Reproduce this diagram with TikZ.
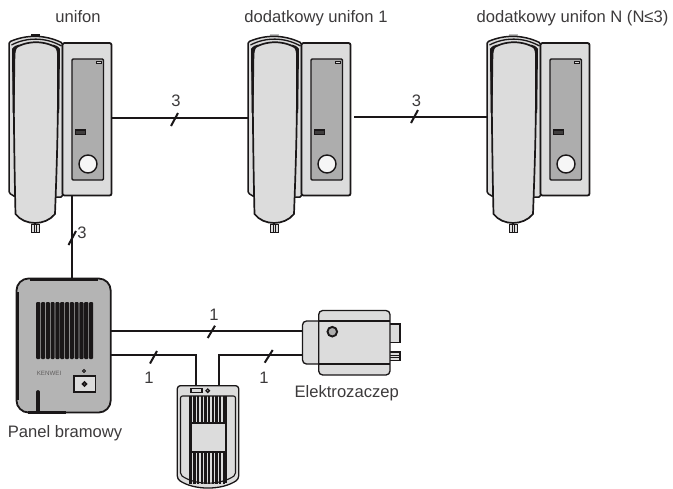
\documentclass[tikz,border=0pt]{standalone}
\usepackage{fontspec}
\setmainfont{Liberation Sans}
\definecolor{ink}{HTML}{1A1718}
\definecolor{lg}{HTML}{DCDCDC}
\definecolor{mg}{HTML}{ADADAD}
\definecolor{pg}{HTML}{B4B4B4}
\tikzset{
 wire/.style={draw=ink,line width=2pt},
 tick/.style={draw=ink,line width=2pt},
 lbl/.style={font=\fontsize{16.6}{18}\selectfont,text=ink!85!white,inner sep=0pt,anchor=base},
 part/.style={draw=ink,fill=lg,line width=1.3pt,rounded corners=1.5pt},
 intercom/.pic={
  \path[fill=lightgray] (-32,-9.5) rectangle (-22.5,-6);
  \path[part,line width=1.5pt] (-53.5,1) -- (-53.5,150) -- (-47,154) -- (0,154) -- (0,0) .. controls (-18,-8.5) and (-36,-8.5) .. (-53.5,-1) -- cycle;
  \path[part,line width=1.8pt,rounded corners=2pt] (0,0) -- (49,0) -- (49,152.5) -- (0,152.5) -- cycle;
  \path[fill=lg,draw=ink,line width=1pt] (-31,181) rectangle (-23,189);
  \draw[ink,line width=.7pt] (-28.5,181) -- (-28.5,189) (-25.7,181) -- (-25.7,189);
  \path[fill=lg,draw=ink,line width=1.7pt] (-49,6) .. controls (-36,-3) and (-17,-3) .. (-4,6) -- (-4.5,40) .. controls (-4.5,90) and (-6,130) .. (-7.5,171) .. controls (-17,183) and (-38,183) .. (-47,171) .. controls (-48,130) and (-49,60) .. (-49,6) -- cycle;
  \path[fill=ink] (-50.5,6) .. controls (-48.5,3) and (-46,2) .. (-43,1.5) .. controls (-46,5) and (-47,7) .. (-47.2,12) -- (-48,70) -- (-49.8,70) -- cycle;
  \path[fill=ink] (-2.5,6) .. controls (-4.5,3) and (-7,2) .. (-10,1.5) .. controls (-6.5,5) and (-5.5,7) .. (-5.3,12) -- (-5.5,70) -- (-3.3,70) -- cycle;
  \draw[ink,line width=1.3pt] (-51,2) .. controls (-36,-6) and (-17,-6) .. (-1,3);
  \path[draw=ink,fill=mg,line width=1.4pt,rounded corners=1.2pt] (9.5,16) rectangle (41,137);
  \path[draw=ink,fill=lg,line width=.6pt] (34,18) rectangle (38.5,20.5);
  \path[draw=ink,fill=ink!75!mg,line width=1.2pt] (13,87) rectangle (23,91.5);
  \path[draw=ink,fill=lg!25!white,line width=1.4pt] (25.5,121) circle (9);
 }
}
\begin{document}
\begin{tikzpicture}[x=1pt,y=-1pt]
\useasboundingbox (0,0) rectangle (673,488);
% intercoms
\coordinate (u1r) at (112,118);
\coordinate (u2l) at (247.5,118);
\coordinate (u2r) at (354,116.7);
\coordinate (u3l) at (487,116.7);
\coordinate (u1b) at (71.7,196);
\coordinate (pt) at (71.7,279);
\draw[wire] (u1r) -- (u2l);
\draw[wire] (u2r) -- (u3l);
\draw[wire] (u1b) -- (pt);
\pic at (62.5,43) {intercom};
\pic at (301.5,43) {intercom};
\pic at (540.5,43) {intercom};
\path[fill=ink] (30.5,33.5) rectangle (40,36.5);
% labels
\node[lbl] (t1) at (78,22) {unifon};
\node[lbl] (t2) at (316,22) {dodatkowy unifon 1};
\node[lbl] (t3) at (572.5,22) {dodatkowy unifon N (N≤3)};
\draw[tick] (171,126) -- (178,113);
\draw[tick] (411,123) -- (418,110);
\draw[tick] (68.5,245) -- (76,231);
\node[lbl] (n1) at (176,106.5) {3};
\node[lbl] (n2) at (416.5,106) {3};
\node[lbl] (n3) at (82,238.5) {3};
% panel
\path[draw=ink,fill=pg,line width=1.8pt,rounded corners=12pt] (16.5,278.5) rectangle (110.7,412.5);
\draw[ink,line width=3pt] (17,292) -- (17,400);
\draw[ink,line width=3pt] (30,279) -- (98,279);
\draw[ink,line width=3pt] (28,412.3) -- (66,412.3);
\foreach \x in {36.2,41,45.8,50.6,55.4,60.2,65,69.8,74.6,79.4,84.2,89}{
 \path[fill=ink,rounded corners=1pt] (\x,302) rectangle (\x+4.1,359);
}
\node[inner sep=0pt,font=\fontsize{6.2}{7}\selectfont,text=ink!70!white] (kw) at (49,373.5) {KENWEI};
\path[draw=ink,fill=lg,line width=1.7pt] (74,376) rectangle (95.5,392);
\path[draw=ink,fill=white,line width=1.7pt] (84.5,384) circle (1.9);
\path[draw=ink,fill=ink!70!pg,line width=.6pt] (84,371) circle (1.7);
\draw[ink,line width=3.8pt,line cap=round] (38,392) -- (38,411);
\node[lbl] (pb) at (65,437.7) {Panel bramowy};
% lock
\path[draw=ink,fill=lg,line width=1.1pt] (389,324) rectangle (400,342.7);
\path[draw=ink,fill=lg,line width=1.1pt] (389,352) rectangle (400,360.5);
\draw[ink,line width=.7pt] (390,355) -- (400,355) (390,357.5) -- (400,357.5);
\path[part,rounded corners=4pt] (302.5,321) rectangle (340,364);
\path[part,rounded corners=4pt] (318.7,310.5) rectangle (390,375);
\draw[ink,line width=1.2pt] (318.7,321) -- (390,321) (318.7,364) -- (390,364);
\path[draw=ink,fill=mg,line width=1.9pt] (332.3,331.7) circle (4.8);
\node[lbl] (el) at (346.7,397) {Elektrozaczep};
% bell
\path[draw=ink,fill=lg,line width=1.3pt,rounded corners=3pt] (177.3,385.7) -- (238.7,385.7) -- (238.7,479) .. controls (222,490.5) and (194,490.5) .. (177.3,479) -- cycle;
\path[draw=ink,fill=lg,line width=1.1pt,rounded corners=2pt] (180.5,396) -- (235.5,396) -- (235.5,475) .. controls (220,485.5) and (196,485.5) .. (180.5,475) -- cycle;
\foreach \x in {190.6,194.3,198,201.7,205.4,209.1,212.8,216.5,220.2,223.9}{
 \draw[ink,line width=2.4pt] (\x,396) -- (\x,483.5);
}
\draw[ink,line width=1.6pt] (226,396) -- (226,482.5);
\path[draw=ink,fill=lg,line width=2pt] (191,423) rectangle (225.7,452);
\path[draw=ink,fill=lg,line width=1.1pt] (191,388.7) rectangle (202,392.7);
\path[draw=ink,fill=lg,line width=1.3pt] (207.7,390.7) circle (1.7);
% wires
\coordinate (p1) at (111,331.3);
\coordinate (l1) at (302.5,331.3);
\coordinate (p2) at (111,355);
\coordinate (b1) at (195.7,385.7);
\coordinate (b2) at (218.7,385.7);
\coordinate (l2) at (302.5,355);
\draw[wire] (p1) -- (l1);
\draw[wire] (p2) -| (b1);
\draw[wire] (l2) -| (b2);
\draw[tick] (207.7,338) -- (215,325.7);
\draw[tick] (150,363.5) -- (157,351);
\draw[tick] (264.7,362.7) -- (272.7,350);
\node[lbl] (m1) at (214,320) {1};
\node[lbl] (m2) at (149,383.5) {1};
\node[lbl] (m3) at (264,383.5) {1};
\end{tikzpicture}
\end{document}
